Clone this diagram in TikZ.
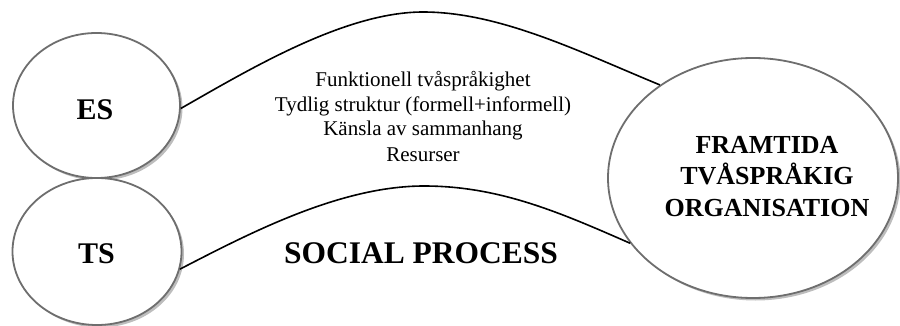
\documentclass[tikz,border=0pt]{standalone}
\usepackage{fontspec}
\setmainfont{Liberation Serif}
\usetikzlibrary{shapes.geometric,shadows}
\definecolor{bubblegray}{HTML}{6E6E6E}
\definecolor{shadowgray}{HTML}{BDBDBD}
\begin{document}
\begin{tikzpicture}[x=1pt,y=-1pt,
  bubble/.style={ellipse, draw=bubblegray, line width=1.8pt, fill=white, inner sep=0pt,
    drop shadow={shadow xshift=2.5pt, shadow yshift=-2.5pt, fill=shadowgray, opacity=1}},
  link/.style={line width=1.6pt, black},
  small/.style={anchor=base, inner sep=0pt, font=\fontsize{21}{25}\selectfont},
  bigbold/.style={anchor=base, inner sep=0pt, font=\fontsize{30}{36}\selectfont\bfseries},
  midbold/.style={anchor=base, inner sep=0pt, font=\fontsize{26}{31}\selectfont\bfseries}]
\useasboundingbox (0,0) rectangle (900,326);

% the three bubbles
\node[bubble, minimum width=167pt, minimum height=145pt] (es) at (96.5,105.5) {};
\node[bubble, minimum width=169pt, minimum height=147pt] (ts) at (97,251.5) {};
\node[bubble, minimum width=290pt, minimum height=240pt] (fut) at (753,178) {};

% bubble labels
\node[bigbold] (esl) at (95,120) {ES};
\node[bigbold] (tsl) at (96.5,263) {TS};
\node[midbold] (f1) at (767,154) {FRAMTIDA};
\node[midbold] (f2) at (767,185) {TVÅSPRÅKIG};
\node[midbold] (f3) at (767,216) {ORGANISATION};

% curved connectors
\coordinate (toppeak) at (423,12);
\coordinate (lowpeak) at (424,186);
\draw[link] (es.-2) .. controls (250,69) and (345,12) .. (toppeak)
                    .. controls (500,12) and (580,52) .. (fut.135);
\draw[link] (ts.-12) .. controls (250,233) and (340,186) .. (lowpeak)
                     .. controls (500,186) and (561,213) .. (fut.208);

% texts between the connectors
\node[small] (t1) at (423,87) {Funktionell tvåspråkighet};
\node[small] (t2) at (423,112) {Tydlig struktur (formell+informell)};
\node[small] (t3) at (423,136) {Känsla av sammanhang};
\node[small] (t4) at (423,161) {Resurser};
\node[anchor=base, inner sep=0pt, font=\fontsize{31.5}{38}\selectfont\bfseries] (sp) at (421,263) {SOCIAL PROCESS};
\end{tikzpicture}
\end{document}
